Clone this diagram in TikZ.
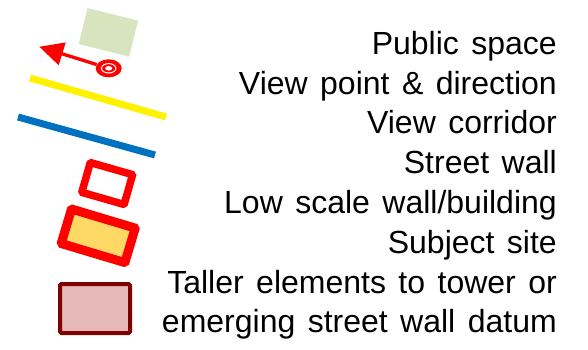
\documentclass[tikz,border=0pt]{standalone}
\usepackage{fontspec}
\setmainfont{Liberation Sans}[WordSpace=1.4]
\usetikzlibrary{arrows.meta,shapes.geometric}
\definecolor{pubgreen}{HTML}{D7E4BD}
\definecolor{corrblue}{HTML}{0070C0}
\definecolor{siteorange}{HTML}{FFD966}
\definecolor{talledge}{HTML}{7F0000}
\definecolor{tallfill}{HTML}{E6B9B8}
\tikzset{
  lbl/.style={anchor=base east, inner sep=0pt, font=\fontsize{32}{38}\selectfont},
  pubbox/.style={fill=pubgreen, minimum width=52pt, minimum height=37pt, inner sep=0pt, rotate=-14},
  vpoint/.style={ellipse, fill=red, minimum width=26pt, minimum height=18pt, inner sep=0pt},
  vpring/.style={ellipse, draw=white, line width=1pt, minimum width=14.5pt, minimum height=9.4pt, inner sep=0pt},
  vpdot/.style={ellipse, fill=white, minimum width=7pt, minimum height=4.5pt, inner sep=0pt},
  viewarrow/.style={draw=red, line width=3.3pt, -{Triangle[length=24pt,width=23pt]}},
  corridor/.style={line width=7pt},
  wallbox/.style={draw=red, line width=7.5pt, fill=white, minimum width=44pt, minimum height=31pt, inner sep=0pt, rotate=-16, rounded corners=1pt},
  sitebox/.style={draw=red, line width=9pt, fill=siteorange, minimum width=66.5pt, minimum height=36pt, inner sep=0pt, rotate=-16.7, rounded corners=1pt},
  tallbox/.style={draw=talledge, line width=4pt, fill=tallfill, minimum width=70pt, minimum height=49pt, inner sep=0pt, rounded corners=1.5pt}
}
\begin{document}
\begin{tikzpicture}[x=1pt,y=-1pt]
\path[use as bounding box] (0,0) rectangle (588,349);
% legend symbols
\node[pubbox] (ps) at (108.4,32.3) {};
\node[vpoint] (vp) at (108.7,68.3) {};
\node[vpring] (vpr) at (vp) {};
\node[vpdot] (vpd) at (vp) {};
\coordinate (tip) at (39.3,46.7);
\draw[viewarrow] (vp) -- (tip);
\coordinate (y1) at (30,78);
\coordinate (y2) at (166,117);
\draw[corridor, draw=yellow] (y1) -- (y2);
\coordinate (b1) at (18,117);
\coordinate (b2) at (155,155);
\draw[corridor, draw=corrblue] (b1) -- (b2);
\node[wallbox] (sw) at (107.2,183.5) {};
\node[sitebox] (ss) at (98.2,235.8) {};
\node[tallbox] (te) at (95,308.5) {};
% labels
\node[lbl] (l1) at (557,54.3) {Public space};
\node[lbl] (l2) at (557,94.1) {View point \& direction};
\node[lbl] (l3) at (557,133.9) {View corridor};
\node[lbl] (l4) at (557,173.7) {Street wall};
\node[lbl] (l5) at (557,213.5) {Low scale wall/building};
\node[lbl] (l6) at (557,253.3) {Subject site};
\node[lbl] (l7) at (557,293.1) {Taller elements to tower or};
\node[lbl] (l8) at (557,332.9) {emerging street wall datum};
\end{tikzpicture}
\end{document}
